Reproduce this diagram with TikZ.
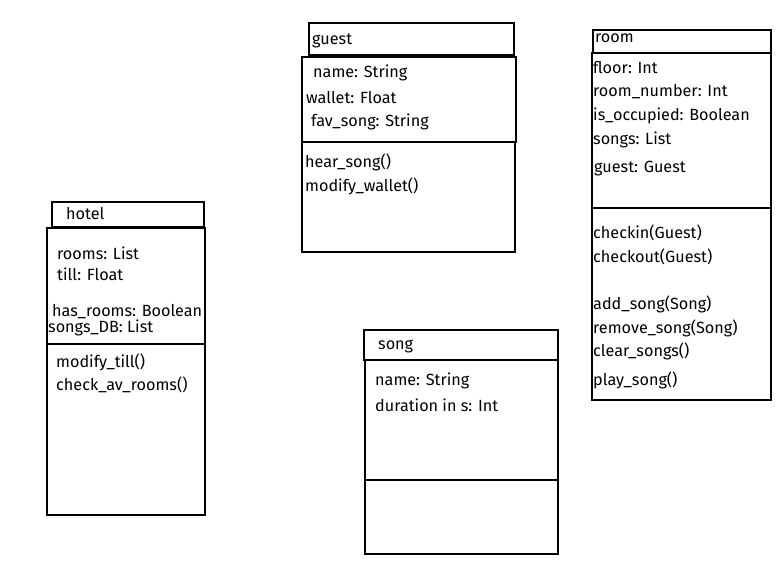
\documentclass[tikz,border=0pt]{standalone}
\usepackage{fontspec}
\setmainfont{Fira Sans}

\tikzset{
  box/.style={draw, line width=2.6pt},
  txt/.style={anchor=west, inner sep=0pt, font=\fontsize{16.2}{20}\selectfont},
}

\begin{document}
\begin{tikzpicture}[x=1pt, y=-1pt]
\useasboundingbox (0,0) rectangle (783,566);

% hotel
\draw[box] (52,202) rectangle (204,227);
\draw[box] (47,228) rectangle (205,344) (47,344) rectangle (205,515);
\node[txt] (hotel) at (66,214) {hotel};
\node[txt] (hrooms) at (57,253) {rooms: List};
\node[txt] (htill) at (57,274) {till: Float};
\node[txt] (hhas) at (52,312) {has\_rooms: Boolean};
\node[txt] (hsongs) at (48,328) {songs\_DB: List};
\node[txt] (hmod) at (56,362) {modify\_till()};
\node[txt] (hcheck) at (56,385) {check\_av\_rooms()};

% guest
\draw[box] (309,23) rectangle (514,55);
\draw[box] (302,57) rectangle (516,142) (302,142) rectangle (515,252);
\node[txt] (guest) at (312,41) {guest};
\node[txt] (gname) at (313,73) {name: String};
\node[txt] (gwallet) at (306,98) {wallet: Float};
\node[txt] (gfav) at (311,122) {fav\_song: String};
\node[txt] (ghear) at (305,162) {hear\_song()};
\node[txt] (gmod) at (305,186) {modify\_wallet()};

% room
\draw[box] (593,30) rectangle (771,53);
\draw[box] (592,53) rectangle (771,208) (592,208) rectangle (771,400);
\node[txt] (room) at (595,38) {room};
\node[txt] (rfloor) at (593,68) {floor: Int};
\node[txt] (rnum) at (593,92) {room\_number: Int};
\node[txt] (rocc) at (593,116) {is\_occupied: Boolean};
\node[txt] (rsongs) at (593,140) {songs: List};
\node[txt] (rguest) at (594,169) {guest: Guest};
\node[txt] (rin) at (593,233) {checkin(Guest)};
\node[txt] (rout) at (593,257) {checkout(Guest)};
\node[txt] (radd) at (593,304) {add\_song(Song)};
\node[txt] (rrem) at (593,328) {remove\_song(Song)};
\node[txt] (rclear) at (593,351) {clear\_songs()};
\node[txt] (rplay) at (593,380) {play\_song()};

% song
\draw[box] (364,330) rectangle (558,360);
\draw[box] (365,360) rectangle (558,480) (365,480) rectangle (558,554);
\node[txt] (song) at (378,346) {song};
\node[txt] (sname) at (375,381) {name: String};
\node[txt] (sdur) at (375,405) {duration in s: Int};
\end{tikzpicture}
\end{document}
